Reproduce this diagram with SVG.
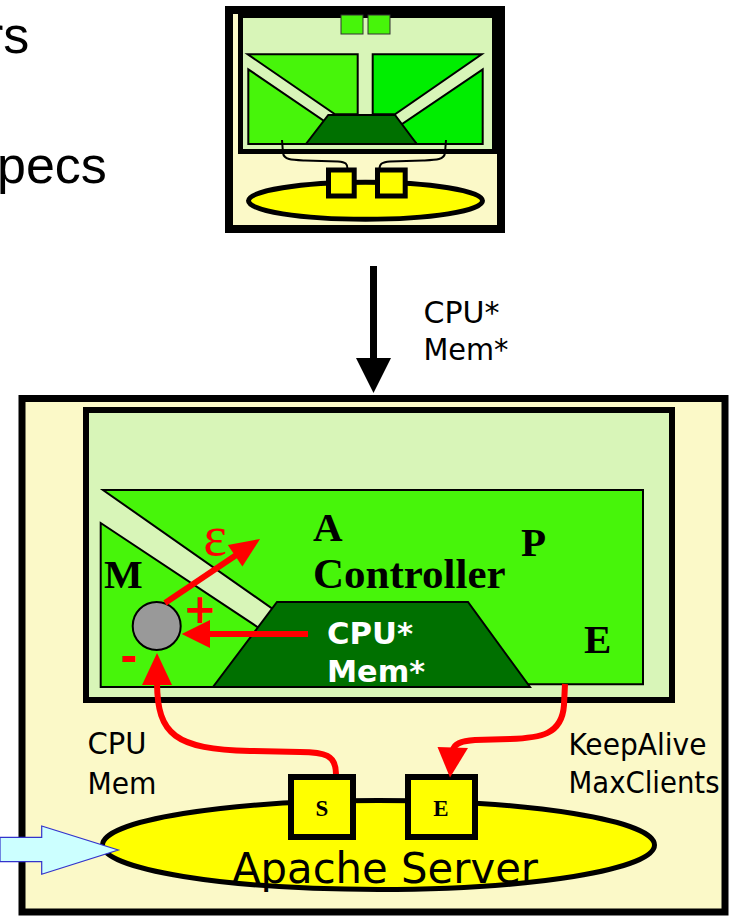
<svg xmlns="http://www.w3.org/2000/svg" width="732" height="916" viewBox="0 0 732 916">
<style>
.lbl{font-family:"DejaVu Sans Condensed","DejaVu Sans",sans-serif;font-size:30px;fill:#000}
.big{font-family:"Liberation Sans",Arial,sans-serif;font-size:52px;fill:#000}
.ser{font-family:"Liberation Serif","Times New Roman",serif;font-weight:bold;font-size:41px;fill:#000}
.wht{font-family:"DejaVu Sans","Verdana",sans-serif;font-weight:bold;font-size:30px;fill:#fff}
.red{stroke:#f00;stroke-width:6;fill:none}
.redh{fill:#f00;stroke:none}
.lime{fill:#47f50a;stroke:#000;stroke-width:2}
.lime2{fill:#00ee00;stroke:#000;stroke-width:2}
.dark{fill:#007000;stroke:#000;stroke-width:2}
.ylw{fill:#ffff00;stroke:#000}
</style>
<rect width="732" height="916" fill="#fff"/>

<g id="title-text">
<text class="big" x="-14" y="53">rs</text>
<text class="big" x="-3" y="183">pecs</text>
</g>

<g id="thumbnail">
<rect x="229" y="10" width="272" height="219" fill="#fbf9c8" stroke="#000" stroke-width="8"/>
<rect x="240.5" y="15.5" width="254" height="136" fill="#d8f5b8" stroke="#000" stroke-width="5"/>
<rect x="341" y="15" width="22" height="19" fill="#47f50a" stroke="#333" stroke-width="1"/>
<rect x="368" y="15" width="22" height="19" fill="#47f50a" stroke="#333" stroke-width="1"/>
<polygon class="lime" points="247.7,54.3 357.7,54.3 357.7,114.3 335,114.3"/>
<polygon class="lime" points="248.3,69.3 327,123 310,144 248.3,144"/>
<polygon class="lime2" points="372.7,54.3 481.7,54.3 395,114.3 372.7,114.3"/>
<polygon class="lime2" points="482.7,69.3 482.7,144 416.7,144 400,125.5"/>
<polygon class="dark" points="328.3,115 395,115 416.7,144 306,144"/>
<path d="M282 140 L283 153 C284 160 292 160 305 160.5 L338 161.5 C346 162 347.5 164 347.5 169" fill="none" stroke="#000" stroke-width="2"/>
<path d="M446 140 L445 153 C444 160 436 160 423 160.5 L390 161.5 C382 162 379.5 164 379.5 169" fill="none" stroke="#000" stroke-width="2"/>
<ellipse cx="365.5" cy="200.8" rx="117" ry="18.5" fill="#ffff00" stroke="#000" stroke-width="5"/>
<rect x="328.5" y="170" width="25.7" height="26" class="ylw" stroke-width="5"/>
<rect x="377.5" y="170" width="27.7" height="26" class="ylw" stroke-width="5"/>
</g>

<g id="main-box">
<rect x="22" y="398.5" width="703" height="513.5" fill="#fbf9c8" stroke="#000" stroke-width="7"/>
</g>

<g id="controller-box">
<rect x="86" y="410" width="586" height="290" fill="#d8f5b8" stroke="#000" stroke-width="6"/>
<polygon class="lime" points="103,490 643,490 643,684.3 500,684.3 280,614"/>
<polygon class="lime" points="100.7,523 265,632 240,687 100.7,687"/>
<polygon class="dark" points="277,602 468,602 530,687 213,687"/>
<text class="ser" x="313" y="541">A</text>
<text class="ser" x="313" y="588" style="font-size:43px">Controller</text>
<text class="ser" x="521" y="556">P</text>
<text class="ser" x="584" y="653">E</text>
<text class="ser" x="104" y="588">M</text>
<text class="wht" x="327" y="644" textLength="86" lengthAdjust="spacingAndGlyphs">CPU*</text>
<text class="wht" x="327" y="682" textLength="98" lengthAdjust="spacingAndGlyphs">Mem*</text>
</g>

<g id="sum-node">
<circle cx="156.7" cy="626" r="24" fill="#999" stroke="#000" stroke-width="2"/>
<text x="200" y="623" font-family="DejaVu Sans,sans-serif" font-weight="bold" font-size="40" fill="#f00" text-anchor="middle">+</text>
<text x="129" y="671" font-family="DejaVu Sans,sans-serif" font-weight="bold" font-size="42" fill="#f00" text-anchor="middle">-</text>
<text x="215" y="555" font-family="Liberation Serif,serif" font-size="56" fill="#f00" text-anchor="middle">ε</text>
</g>

<g id="apache-server">
<ellipse cx="378.5" cy="845" rx="276" ry="44.5" fill="#ffff00" stroke="#000" stroke-width="5"/>
<rect x="291" y="777" width="62" height="60" class="ylw" stroke-width="6"/>
<rect x="408" y="777" width="67" height="60" class="ylw" stroke-width="6"/>
<text x="322" y="816" font-family="Liberation Serif,serif" font-weight="bold" font-size="23" text-anchor="middle">S</text>
<text x="441" y="816" font-family="Liberation Serif,serif" font-weight="bold" font-size="23" text-anchor="middle">E</text>
<text class="lbl" x="232" y="883" style="font-size:43px" textLength="306" lengthAdjust="spacingAndGlyphs">Apache Server</text>
</g>

<g id="labels">
<text class="lbl" x="423.5" y="323" textLength="76" lengthAdjust="spacingAndGlyphs">CPU*</text>
<text class="lbl" x="423.5" y="360" textLength="85" lengthAdjust="spacingAndGlyphs">Mem*</text>
<text class="lbl" x="87.5" y="754" textLength="59" lengthAdjust="spacingAndGlyphs">CPU</text>
<text class="lbl" x="87.5" y="794" textLength="69" lengthAdjust="spacingAndGlyphs">Mem</text>
<text class="lbl" x="568.5" y="755" textLength="138" lengthAdjust="spacingAndGlyphs">KeepAlive</text>
<text class="lbl" x="568.5" y="793" textLength="151" lengthAdjust="spacingAndGlyphs">MaxClients</text>
</g>

<g id="connectors">
<line x1="373.5" y1="266" x2="373.5" y2="360" stroke="#000" stroke-width="7"/>
<polygon points="356,358 391,358 373.5,393" fill="#000"/>
<line class="red" x1="165" y1="603" x2="240" y2="552.5"/>
<polygon class="redh" points="260,539 242.4,566.6 227.8,545"/>
<line class="red" x1="308" y1="634" x2="205" y2="634"/>
<polygon class="redh" points="181.7,634 210,620 210,648"/>
<path class="red" d="M336 774 C336 755 325 752 300 752 L250 751 C175 749 157.5 735 157 683"/>
<polygon class="redh" points="157,653 142,685 172,685"/>
<path class="red" d="M565 684 L564 705 C562 735 540 738 510 739 L475 740 C460 741 454 744 453 750"/>
<polygon class="redh" points="450,777.5 437.5,747 468,748"/>
<polygon points="0,837.3 41.7,837.3 41.7,826 118.3,850 41.7,874.3 41.7,861.7 0,861.7" fill="#ccffff" stroke="#3333cc" stroke-width="1.2"/>
</g>
</svg>
